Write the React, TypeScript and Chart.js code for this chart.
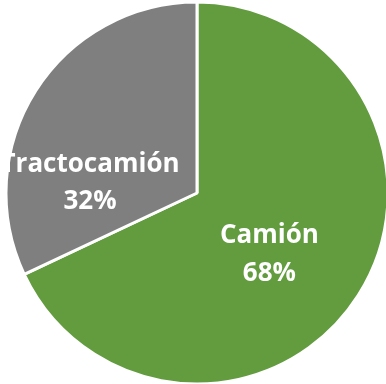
import React, { useEffect, useRef } from "react";
import { Chart, registerables } from "chart.js";

Chart.register(...registerables);

const categories: string[] = ["Camión", "Tractocamión"];
const values: number[] = [68, 32];
const percentLabels: string[] = ["68%", "32%"];
const colors: string[] = ["#629C3F", "#7F7F7F"];
// label anchor offsets relative to pie center, as fraction of radius (x, first baseline y)
const labelOffsetX: number[] = [0.379, -0.56];
const labelOffsetY: number[] = [0.263, -0.111];

const labelPlugin = {
  id: "pieLabels",
  afterDatasetsDraw(chart: any) {
    const meta = chart.getDatasetMeta(0);
    const ctx = chart.ctx;
    ctx.save();
    ctx.fillStyle = "#FFFFFF";
    ctx.font = "bold 26px 'Open Sans'";
    ctx.textAlign = "center";
    ctx.textBaseline = "alphabetic";
    meta.data.forEach((arc: any, i: number) => {
      const r = arc.outerRadius;
      const x = arc.x + labelOffsetX[i] * r;
      const y = arc.y + labelOffsetY[i] * r;
      ctx.fillText(categories[i], x, y);
      ctx.fillText(percentLabels[i], x, y + 37.5);
    });
    ctx.restore();
  },
};

export default function App() {
  const ref = useRef<HTMLCanvasElement>(null);
  useEffect(() => {
    if (!ref.current) return;
    const chart = new Chart(ref.current, {
      type: "pie",
      data: {
        labels: categories,
        datasets: [
          {
            data: values,
            backgroundColor: colors,
            borderColor: "#FFFFFF",
            borderWidth: 3,
          },
        ],
      },
      options: {
        animation: false,
        responsive: false,
        devicePixelRatio: 1,
        radius: 191,
        layout: { padding: { left: 8 } },
        plugins: {
          legend: { display: false },
          tooltip: { enabled: false },
        },
      } as any,
      plugins: [labelPlugin],
    });
    return () => chart.destroy();
  }, []);
  return (
    <div style={{ position: "fixed", left: 0, top: 0, width: 386, height: 386, background: "#FFFFFF" }}>
      <canvas ref={ref} width={386} height={386} style={{ display: "block" }} />
    </div>
  );
}
